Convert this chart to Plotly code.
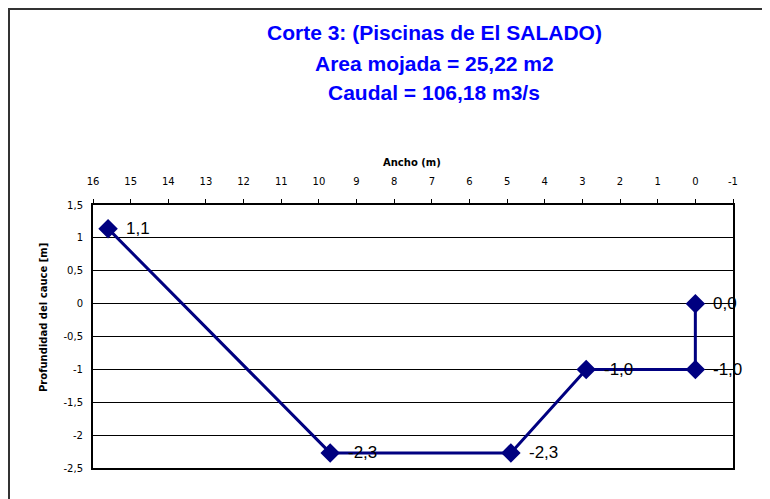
import plotly.graph_objects as go

# Data
ancho = [15.6, 9.7, 4.9, 2.9, 0.0, 0.0]
profundidad = [1.14, -2.27, -2.27, -1.0, -1.0, 0.0]
etiquetas = [f"{v:.1f}".replace(".", ",").replace("-0,0", "0,0") for v in profundidad]

x_ticks = [16, 15, 14, 13, 12, 11, 10, 9, 8, 7, 6, 5, 4, 3, 2, 1, 0, -1]
x_ticklabels = ["16", "15", "14", "13", "12", "11", "10", "9", "8", "7", "6", "5", "4", "3", "2", "1", "0", "-1"]
y_ticks = [1.5, 1, 0.5, 0, -0.5, -1, -1.5, -2, -2.5]
y_ticklabels = ["1,5", "1", "0,5", "0", "-0,5", "-1", "-1,5", "-2", "-2,5"]

titulo = ["Corte 3: (Piscinas de El SALADO)", "Area mojada = 25,22 m2", "Caudal = 106,18 m3/s"]

O = 8  # page body margin offset
W, H = 770 - O, 499 - O
L, R, T, B = 93, 733, 205, 468
pw, ph = R - L, B - T

def px(x):
    return (x - L) / pw

def py(y):
    return (B - y) / ph

fig = go.Figure()
fig.add_trace(go.Scatter(
    x=ancho, y=profundidad, mode="lines+markers",
    line=dict(color="#000080", width=3),
    marker=dict(symbol="diamond", size=15, color="#000080"),
    cliponaxis=False, showlegend=False,
))

for xv, yv, t in zip(ancho, profundidad, etiquetas):
    fig.add_annotation(
        x=xv, y=yv, text=t, showarrow=False, xanchor="left", yanchor="middle",
        xshift=16, font=dict(family="Liberation Sans, Arial", size=17, color="black"),
    )

fig.update_layout(
    width=W, height=H,
    margin=dict(l=L - O, r=(W + O) - R, t=T - O, b=(H + O) - B, pad=0),
    paper_bgcolor="white", plot_bgcolor="white",
    font=dict(family="DejaVu Sans", size=10, color="black"),
    xaxis=dict(
        range=[16, -1], side="top", tickvals=x_ticks, ticktext=x_ticklabels,
        showgrid=False, zeroline=False, ticks="outside", ticklen=4, tickwidth=1,
        tickcolor="black", showline=True, linecolor="black", linewidth=2, mirror=True,
        ticklabelstandoff=10, tickfont=dict(size=10, family="DejaVu Sans"),
    ),
    yaxis=dict(
        range=[-2.5, 1.5], tickvals=y_ticks, ticktext=y_ticklabels,
        showgrid=True, gridcolor="black", gridwidth=1, zeroline=False,
        ticks="", showline=True, linecolor="black", linewidth=2, mirror=True,
        ticklabelstandoff=6, tickfont=dict(size=10, family="DejaVu Sans"),
    ),
)

# Title lines
for line, yy in zip(titulo, [32, 63, 93]):
    fig.add_annotation(
        text=f"<b>{line}</b>", xref="paper", yref="paper",
        x=px(434), y=py(yy), xanchor="center", yanchor="middle", showarrow=False,
        font=dict(family="Liberation Sans, Arial", size=21, color="#0000FF"),
    )

# Axis titles
fig.add_annotation(
    text="<b>Ancho (m)</b>", xref="paper", yref="paper",
    x=px(412), y=py(162), xanchor="center", yanchor="middle", showarrow=False,
    font=dict(family="DejaVu Sans", size=10, color="black"),
)
fig.add_annotation(
    text="<b>Profundidad del cauce [m]</b>", xref="paper", yref="paper",
    x=px(43), y=py(318), xanchor="center", yanchor="middle", showarrow=False,
    textangle=-90, font=dict(family="DejaVu Sans", size=10, color="black"),
)

# Outer frame (page coordinates shifted by the body margin)
fig.add_shape(
    type="rect", xref="paper", yref="paper",
    x0=px(O + 1), x1=px(780), y0=py(510), y1=py(O + 1),
    line=dict(color="#333333", width=2), fillcolor="rgba(0,0,0,0)", layer="above",
)

fig.write_html("out.html")
